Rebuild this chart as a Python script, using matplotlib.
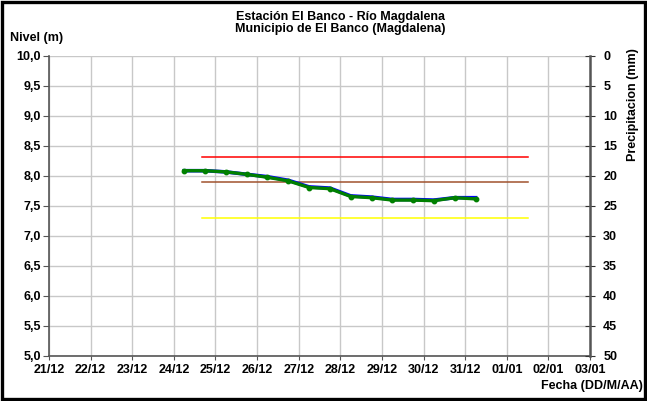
import matplotlib
matplotlib.use("Agg")
import matplotlib.pyplot as plt
from matplotlib.patches import Rectangle
from datetime import datetime, timedelta

plt.rcParams['font.family'] = ['Liberation Sans', 'DejaVu Sans']

# ---- data ----
start = datetime(2011, 12, 24, 6, 0)
times = [start + timedelta(hours=12 * i) for i in range(15)]
nivel_green = [8.08, 8.08, 8.06, 8.02, 7.97, 7.91, 7.80, 7.78, 7.65, 7.63, 7.59, 7.59, 7.58, 7.63, 7.61]
nivel_blue = [8.08, 8.08, 8.06, 8.02, 7.98, 7.92, 7.81, 7.79, 7.66, 7.64, 7.60, 7.60, 7.59, 7.63, 7.63]
umbral_t = [datetime(2011, 12, 24, 16, 0), datetime(2012, 1, 1, 12, 0)]
umbral_rojo = 8.3
umbral_naranja = 7.9
umbral_amarillo = 7.3
xtick_dates = [datetime(2011, 12, 21) + timedelta(days=i) for i in range(14)]
xtick_labels = [d.strftime('%d/%m') for d in xtick_dates]
yticks = [5.0 + 0.5 * i for i in range(11)]
precip_ticks = list(range(0, 55, 5))

FS = 9

fig = plt.figure(figsize=(6.47, 4.01), dpi=100)
ax = fig.add_axes([49 / 647, 1 - 355.5 / 401, (590 - 49) / 647, 300 / 401])

ax.plot(times, nivel_blue, color='#0000ff', lw=2.6, zorder=3)
ax.plot(times, nivel_green, color='#008000', lw=2.4, marker='o', ms=3.2, zorder=4)
ax.plot(umbral_t, [umbral_rojo] * 2, color='#ff0000', lw=1.1, zorder=2)
ax.plot(umbral_t, [umbral_naranja] * 2, color='#a0522d', lw=1.1, zorder=2)
ax.plot(umbral_t, [umbral_amarillo] * 2, color='#ffff00', lw=1.1, zorder=2)

ax.set_xlim(xtick_dates[0], xtick_dates[-1])
ax.set_ylim(5.0, 10.0)
ax.set_xticks(xtick_dates)
ax.set_xticklabels(xtick_labels, fontsize=FS, fontweight='bold')
ax.set_yticks(yticks)
ax.set_yticklabels([f"{v:.1f}".replace('.', ',') for v in yticks], fontsize=FS, fontweight='bold')
ax.grid(True, color='#c8c8c8', lw=1.0)
ax.set_axisbelow(True)
ax.tick_params(axis='x', direction='out', length=3, color='#555555', pad=3)
ax.tick_params(axis='y', direction='out', length=4, color='#555555', pad=2)
for s in ['left', 'bottom']:
    ax.spines[s].set_color('#555555')
    ax.spines[s].set_linewidth(1.2)
ax.spines['top'].set_visible(False)
ax.spines['right'].set_visible(False)

ax2 = ax.twinx()
ax2.set_ylim(50, 0)
ax2.set_yticks(precip_ticks)
ax2.set_yticklabels([str(v) for v in precip_ticks], fontsize=FS, fontweight='bold')
ax2.tick_params(axis='y', direction='inout', length=7, color='#333333', pad=6)
for s in ['left', 'bottom', 'top']:
    ax2.spines[s].set_visible(False)
ax2.spines['right'].set_color('#555555')
ax2.spines['right'].set_linewidth(1.8)

fig.text(633 / 647, 1 - 105 / 401, 'Precipitacion (mm)', ha='center', va='center', rotation=90,
         fontsize=FS, fontweight='bold')
fig.text(340 / 647, 1 - 16.7 / 401, 'Estación El Banco - Río Magdalena', ha='center', va='center',
         fontsize=FS, fontweight='bold')
fig.text(340 / 647, 1 - 29.3 / 401, 'Municipio de El Banco (Magdalena)', ha='center', va='center',
         fontsize=FS, fontweight='bold')
fig.text(10 / 647, 1 - 37.7 / 401, 'Nivel (m)', ha='left', va='center', fontsize=FS, fontweight='bold')
fig.text(643 / 647, 1 - 386 / 401, 'Fecha (DD/M/AA)', ha='right', va='center', fontsize=FS, fontweight='bold')

fig.patches.append(Rectangle((0.003, 0.004), 0.994, 0.992, transform=fig.transFigure,
                             fill=False, edgecolor='black', lw=2.4))

fig.savefig('out.png', dpi=100)
